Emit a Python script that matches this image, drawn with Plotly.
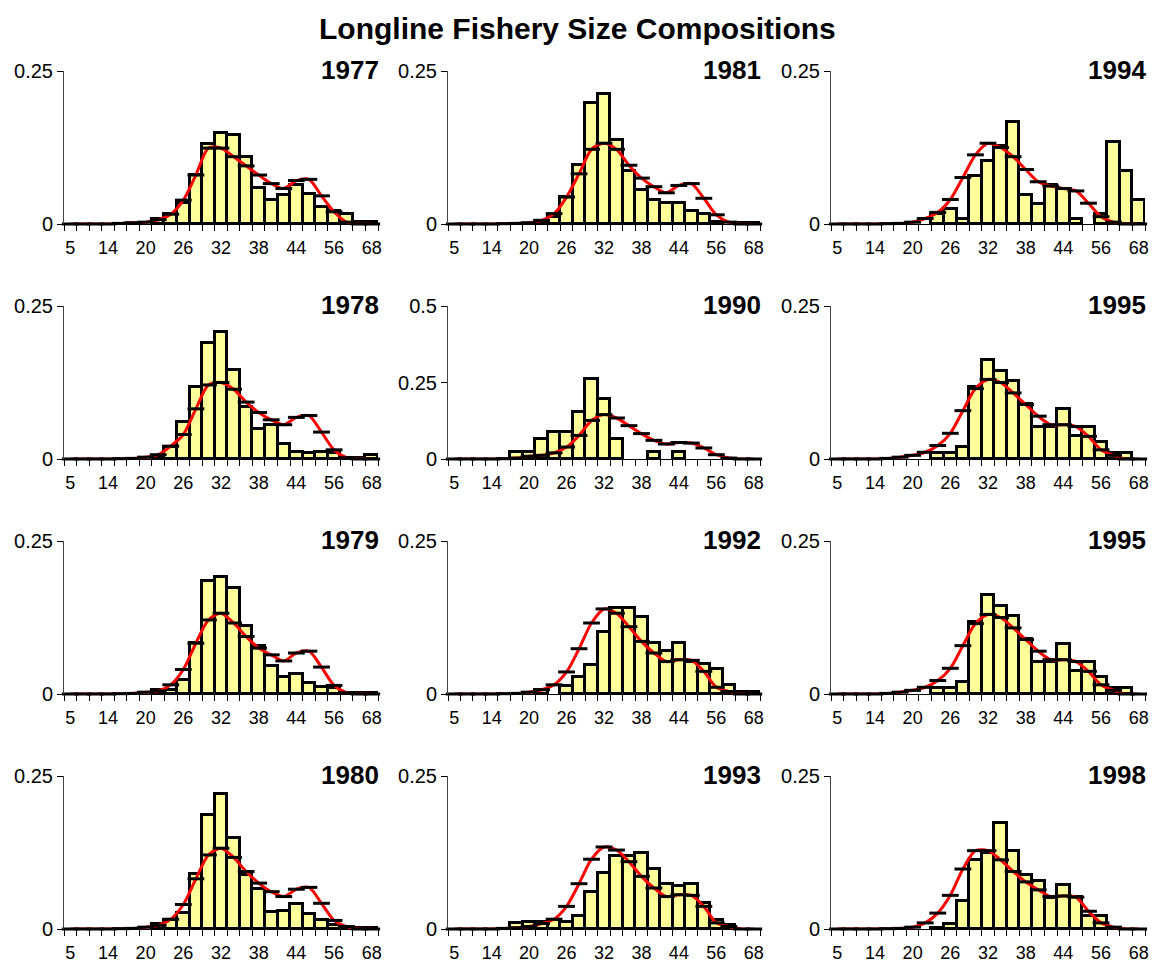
import plotly.graph_objects as go
from plotly.subplots import make_subplots

# Size bins (cm); every third bin is labelled on the x axis
size_bins = [5, 8, 11, 14, 16, 18, 20, 22, 24, 26, 28, 30, 32, 34, 36, 38,
             40, 42, 44, 48, 52, 56, 60, 64, 68]
label_step = 3

# Observed proportions (bars) and model predictions (line) per year
obs_1977 = [0, 0, 0, 0, 0, 0, 0, 0.008, 0.016, 0.034, 0.080, 0.131, 0.149, 0.145, 0.110,
            0.059, 0.039, 0.048, 0.063, 0.049, 0.028, 0.021, 0.016, 0.003, 0.003]
pred_1977 = [0, 0, 0, 0, 0.001, 0.002, 0.003, 0.007, 0.016, 0.039, 0.080, 0.124, 0.124, 0.110,
             0.095, 0.080, 0.066, 0.058, 0.071, 0.073, 0.046, 0.020, 0.003, 0, 0]

obs_1981 = [0, 0, 0, 0, 0, 0, 0, 0.004, 0.011, 0.044, 0.097, 0.198, 0.213, 0.137, 0.086,
            0.056, 0.040, 0.034, 0.035, 0.022, 0.017, 0.004, 0, 0.001, 0.001]
pred_1981 = [0, 0, 0, 0, 0.0005, 0.001, 0.002, 0.006, 0.017, 0.044, 0.082, 0.122, 0.132, 0.122,
             0.096, 0.075, 0.061, 0.051, 0.063, 0.066, 0.042, 0.015, 0.003, 0, 0]

obs_1994 = [0, 0, 0, 0, 0, 0, 0, 0, 0.017, 0.024, 0.008, 0.079, 0.103, 0.127, 0.166,
            0.047, 0.033, 0.063, 0.058, 0.008, 0, 0.016, 0.134, 0.086, 0.039]
pred_1994 = [0, 0, 0, 0, 0.0005, 0.001, 0.003, 0.009, 0.019, 0.040, 0.076, 0.113, 0.132, 0.125,
             0.110, 0.089, 0.069, 0.062, 0.058, 0.054, 0.034, 0.012, 0.003, 0, 0]

obs_1978 = [0, 0, 0, 0, 0, 0, 0, 0.004, 0.020, 0.060, 0.118, 0.189, 0.207, 0.146, 0.085,
            0.049, 0.056, 0.025, 0.011, 0.010, 0.012, 0.010, 0.002, 0.002, 0.006]
pred_1978 = [0, 0, 0, 0, 0.0005, 0.001, 0.003, 0.007, 0.021, 0.040, 0.082, 0.121, 0.125, 0.114,
             0.093, 0.076, 0.064, 0.056, 0.068, 0.071, 0.044, 0.015, 0.002, 0, 0]

obs_1990 = [0, 0, 0, 0, 0, 0.023, 0.023, 0.066, 0.087, 0.087, 0.152, 0.261, 0.196, 0.065, 0,
            0, 0.022, 0, 0.022, 0, 0, 0, 0, 0, 0]
pred_1990 = [0, 0, 0, 0, 0.001, 0.003, 0.009, 0.012, 0.020, 0.039, 0.077, 0.126, 0.145, 0.134,
             0.109, 0.083, 0.061, 0.049, 0.054, 0.052, 0.036, 0.014, 0.003, 0, 0]

obs_1995 = [0, 0, 0, 0, 0, 0, 0, 0, 0.010, 0.010, 0.019, 0.117, 0.161, 0.144, 0.127,
            0.090, 0.053, 0.053, 0.082, 0.037, 0.053, 0.027, 0.010, 0.010, 0]
pred_1995 = [0, 0, 0, 0, 0.001, 0.003, 0.006, 0.011, 0.022, 0.042, 0.079, 0.115, 0.130, 0.125,
             0.108, 0.089, 0.070, 0.056, 0.056, 0.053, 0.037, 0.015, 0.006, 0, 0]

obs_1979 = [0, 0, 0, 0, 0, 0, 0, 0.007, 0.006, 0.023, 0.083, 0.185, 0.192, 0.174, 0.111,
            0.078, 0.045, 0.027, 0.032, 0.018, 0.011, 0.010, 0.002, 0.001, 0.001]
pred_1979 = [0, 0, 0, 0, 0.0005, 0.001, 0.003, 0.005, 0.015, 0.040, 0.083, 0.121, 0.132, 0.116,
             0.094, 0.075, 0.064, 0.054, 0.067, 0.070, 0.044, 0.014, 0.002, 0, 0]

obs_1992 = [0, 0, 0, 0, 0, 0, 0, 0.007, 0, 0.013, 0.028, 0.047, 0.102, 0.141, 0.141,
            0.126, 0.083, 0.071, 0.084, 0.052, 0.049, 0.041, 0.014, 0.004, 0.004]
pred_1992 = [0, 0, 0, 0, 0.0005, 0.001, 0.003, 0.007, 0.015, 0.036, 0.074, 0.116, 0.139, 0.132,
             0.110, 0.086, 0.067, 0.053, 0.056, 0.055, 0.037, 0.011, 0.004, 0, 0]

obs_1980 = [0, 0, 0, 0, 0, 0, 0, 0.008, 0.015, 0.026, 0.090, 0.186, 0.220, 0.149, 0.089,
            0.065, 0.028, 0.029, 0.041, 0.025, 0.014, 0.007, 0.002, 0.001, 0.001]
pred_1980 = [0, 0, 0, 0, 0.0005, 0.001, 0.003, 0.006, 0.016, 0.040, 0.082, 0.121, 0.132, 0.117,
             0.094, 0.075, 0.061, 0.053, 0.065, 0.068, 0.042, 0.014, 0.004, 0, 0]

obs_1993 = [0, 0, 0, 0, 0, 0.009, 0.011, 0.012, 0.015, 0.011, 0.021, 0.061, 0.091, 0.120, 0.120,
            0.124, 0.098, 0.074, 0.071, 0.074, 0.043, 0.015, 0.007, 0, 0]
pred_1993 = [0, 0, 0, 0, 0.001, 0.002, 0.004, 0.009, 0.016, 0.037, 0.074, 0.114, 0.134, 0.129,
             0.110, 0.086, 0.067, 0.053, 0.056, 0.055, 0.037, 0.010, 0.004, 0, 0]

obs_1998 = [0, 0, 0, 0, 0, 0, 0, 0, 0.001, 0.008, 0.046, 0.112, 0.124, 0.174, 0.128,
            0.089, 0.079, 0.051, 0.072, 0.053, 0.022, 0.022, 0.002, 0, 0]
pred_1998 = [0, 0, 0, 0, 0.0005, 0.001, 0.003, 0.010, 0.026, 0.055, 0.098, 0.128, 0.128, 0.113,
             0.094, 0.077, 0.064, 0.053, 0.054, 0.052, 0.029, 0.010, 0.003, 0, 0]

# Panel layout, row by row: (year label, observed, predicted, y-axis max)
panels = [
    ("1977", obs_1977, pred_1977, 0.25), ("1981", obs_1981, pred_1981, 0.25), ("1994", obs_1994, pred_1994, 0.25),
    ("1978", obs_1978, pred_1978, 0.25), ("1990", obs_1990, pred_1990, 0.5), ("1995", obs_1995, pred_1995, 0.25),
    ("1979", obs_1979, pred_1979, 0.25), ("1992", obs_1992, pred_1992, 0.25), ("1995", obs_1995, pred_1995, 0.25),
    ("1980", obs_1980, pred_1980, 0.25), ("1993", obs_1993, pred_1993, 0.25), ("1998", obs_1998, pred_1998, 0.25),
]

W, H = 1153, 974
FONT = "Liberation Sans, Arial, sans-serif"
col_px = [(64, 378), (448, 760), (831, 1145)]
row_top_px, row_h_px, row_step_px = 71, 153, 235

fig = make_subplots(rows=4, cols=3)
x_idx = list(range(len(size_bins)))
tick_idx = x_idx[::label_step]
tick_txt = [str(size_bins[i]) for i in tick_idx]

annotations = []
for k, (year, obs, pred, ymax) in enumerate(panels):
    r, c = divmod(k, 3)
    fig.add_trace(go.Bar(
        x=x_idx, y=[v if v > 0 else None for v in obs], width=1,
        marker=dict(color="#FFFF99", line=dict(color="black", width=3)),
        showlegend=False, hoverinfo="skip"), row=r + 1, col=c + 1)
    fig.add_trace(go.Scatter(
        x=x_idx, y=pred, mode="lines+markers",
        line=dict(color="red", width=3, shape="spline", smoothing=0.8),
        marker=dict(symbol="line-ew", size=12, color="black",
                    line=dict(color="black", width=3)),
        cliponaxis=False, showlegend=False, hoverinfo="skip"), row=r + 1, col=c + 1)

    n = k + 1
    sfx = "" if n == 1 else str(n)
    x0, x1 = col_px[c]
    top = row_top_px + r * row_step_px
    bot = top + row_h_px
    yticks = [0, 0.25] if ymax <= 0.25 else [0, 0.25, 0.5]
    fig.layout["xaxis" + sfx].update(
        domain=[x0 / W, x1 / W], anchor="y" + sfx, automargin=False,
        range=[-0.5, len(size_bins) - 0.5],
        tickmode="array", tickvals=tick_idx, ticktext=tick_txt,
        ticks="outside", ticklen=7, tickcolor="rgba(0,0,0,0)",
        minor=dict(tickmode="linear", tick0=-0.5, dtick=1, ticks="outside",
                   ticklen=6, tickcolor="black", tickwidth=1),
        showline=True, linecolor="black", linewidth=1,
        showgrid=False, zeroline=False,
        tickfont=dict(family=FONT, size=18, color="black"))
    fig.layout["yaxis" + sfx].update(
        domain=[1 - bot / H, 1 - top / H], anchor="x" + sfx, automargin=False,
        range=[0, ymax], tickmode="array", tickvals=yticks,
        ticktext=[("%g" % v) for v in yticks],
        ticks="outside", ticklen=6, tickcolor="black",
        showline=True, linecolor="#444444", linewidth=1,
        showgrid=False, zeroline=False,
        tickfont=dict(family=FONT, size=20, color="black"))
    annotations.append(dict(
        text="<b>%s</b>" % year, xref="paper", yref="paper",
        x=(x1 + 3) / W, y=1 - (top - 1) / H, xanchor="right", yanchor="middle",
        showarrow=False, font=dict(family=FONT, size=26, color="black")))

annotations.append(dict(
    text="<b>Longline Fishery Size Compositions</b>", xref="paper", yref="paper",
    x=577 / W, y=1 - 29 / H, xanchor="center", yanchor="middle", showarrow=False,
    font=dict(family=FONT, size=30, color="black")))

fig.update_layout(
    width=W, height=H, margin=dict(l=0, r=0, t=0, b=0, autoexpand=False),
    paper_bgcolor="white", plot_bgcolor="white",
    bargap=0, annotations=annotations,
    font=dict(family=FONT, color="black"))

fig.write_html("out.html")
